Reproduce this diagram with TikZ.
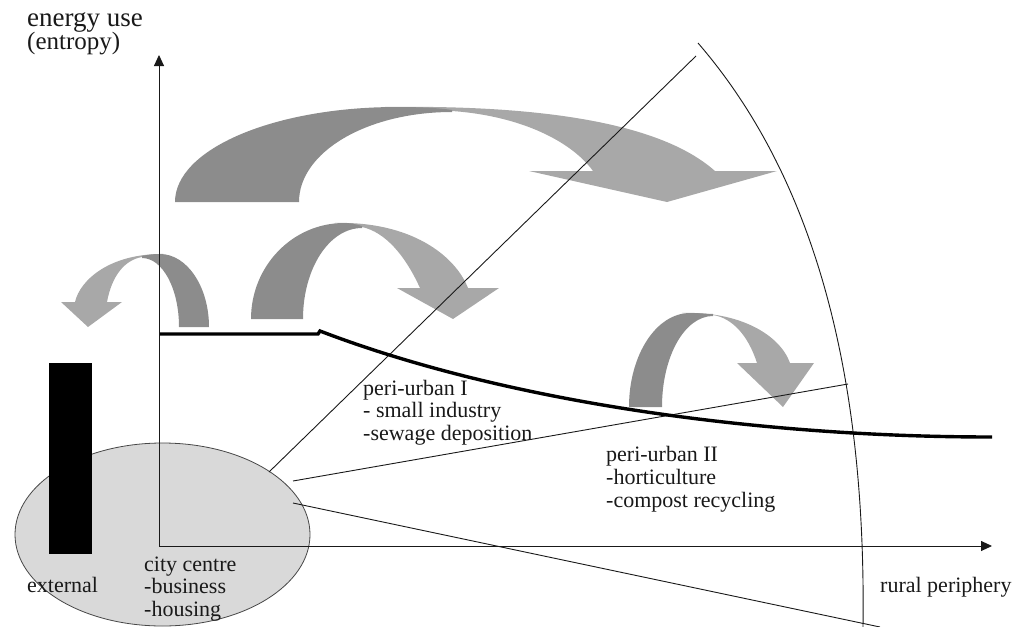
\documentclass[tikz,border=0pt]{standalone}
\usepackage{fontspec}
\setmainfont{Liberation Serif}
\usetikzlibrary{arrows.meta,shapes.geometric}
\definecolor{darkband}{RGB}{140,140,140}
\definecolor{lightband}{RGB}{168,168,168}
\definecolor{cityfill}{RGB}{217,217,217}
\definecolor{inkc}{RGB}{25,25,25}
\begin{document}
\begin{tikzpicture}[x=1pt,y=-1pt,
  darkpart/.style={fill=darkband},
  lightpart/.style={fill=lightband},
  thinline/.style={draw=inkc,line width=0.9pt},
  axisline/.style={draw=inkc,line width=0.9pt,-{Triangle[length=11pt,width=10pt]}},
  profile/.style={draw=black,line width=3.4pt},
  lbl/.style={anchor=base west,inner sep=0pt,text=inkc,font=\fontsize{22}{24}\selectfont},
]
\useasboundingbox (0,0) rectangle (1029,627);

% city centre ellipse and external bar
\node[draw=inkc!80,line width=0.8pt,fill=cityfill,ellipse,minimum width=295pt,minimum height=183pt,inner sep=0pt] (city) at (162.5,534.5) {};
\node[fill=black,minimum width=43pt,minimum height=191pt,inner sep=0pt,anchor=north west] (ext) at (49,363) {};

% curved arrows
% arrow 1 (large)
\fill[lightpart] (385,107) .. controls (600,104) and (680,140) .. (715,171) -- (777,171) -- (667,202) -- (529,171) -- (593,171) .. controls (572,142) and (522,116) .. (452,111) -- cycle;
\fill[darkpart] (175,202) .. controls (175,149) and (274,107) .. (397,107) .. controls (420,107) and (440,108) .. (452,110) -- (452,112) .. controls (367,112) and (299,152) .. (299,202) -- cycle;
% arrow 2 (middle)
\fill[lightpart] (335,223) .. controls (410,221) and (455,255) .. (468,288) -- (499,288) -- (453,319) -- (397,288) -- (420,288) .. controls (405,255) and (385,232) .. (362,227) -- cycle;
\fill[darkpart] (251,319) .. controls (251,266) and (292.6,223) .. (344,223) .. controls (351,223) and (357,224.5) .. (362,226) -- (362,228) .. controls (329.4,228) and (303,268.2) .. (303,319) -- cycle;
% arrow 3 (left, pointing left)
\fill[lightpart] (165,254) .. controls (110,253) and (80,280) .. (75,302) -- (61,302) -- (88,327) -- (122,302) -- (107,302) .. controls (112,275) and (125,260) .. (142,257) -- cycle;
\fill[darkpart] (209,327) .. controls (209,286.7) and (187,254) .. (160,254) .. controls (152,254) and (147,255) .. (142,256) -- (142,258) .. controls (162.4,258) and (179,288.3) .. (179,327) -- cycle;
% arrow 4 (right)
\fill[lightpart] (682,313) .. controls (740,311) and (780,335) .. (790,363) -- (814,363) -- (783,407) -- (737,363) -- (757,363) .. controls (748,335) and (732,318) .. (713,315) -- cycle;
\fill[darkpart] (629,407) .. controls (629,355) and (656.3,313) .. (690,313) .. controls (699,313) and (707,314) .. (713,314) -- (713,316) .. controls (684.8,316) and (662,356.2) .. (662,407) -- cycle;

% zone boundary lines
\coordinate (l1a) at (269,472); \coordinate (l1b) at (696,56);
\coordinate (l2a) at (293,481); \coordinate (l2b) at (848,384);
\coordinate (l3a) at (293,503); \coordinate (l3b) at (880,627);
\draw[thinline] (l1a) -- (l1b);
\draw[thinline] (l2a) -- (l2b);
\draw[thinline] (l3a) -- (l3b);
\coordinate (arcA) at (698,43); \coordinate (arcB) at (863,627);
\draw[thinline] (arcA) .. controls (825,190) and (866,400) .. (arcB);

% axes
\coordinate (O) at (159,546);
\coordinate (ytip) at (159,55);
\coordinate (xtip) at (992,546);
\draw[axisline] (O) -- (ytip);
\draw[axisline] (O) -- (xtip);

% energy profile
\coordinate (p0) at (160,334); \coordinate (p1) at (318,334);
\coordinate (p2) at (320,331); \coordinate (p3) at (992,437);
\draw[profile] (p0) -- (p1) -- (p2) .. controls (500,400) and (750,437) .. (p3);

% labels
\node[lbl,font=\fontsize{27}{28}\selectfont] (t1) at (27,26) {energy use};
\node[lbl,font=\fontsize{25}{26}\selectfont] (t2) at (27,49) {(entropy)};
\node[lbl] (pa1) at (363,395) {peri-urban I};
\node[lbl] (pa2) at (363,417) {- small industry};
\node[lbl] (pa3) at (363,440) {-sewage deposition};
\node[lbl] (pb1) at (606,461) {peri-urban II};
\node[lbl] (pb2) at (606,484) {-horticulture};
\node[lbl] (pb3) at (606,507) {-compost recycling};
\node[lbl] (c1) at (144,571) {city centre};
\node[lbl] (c2) at (144,593) {-business};
\node[lbl] (c3) at (144,616) {-housing};
\node[lbl] (ex) at (27,592) {external};
\node[lbl] (rp) at (880,592) {rural periphery};
\end{tikzpicture}
\end{document}
